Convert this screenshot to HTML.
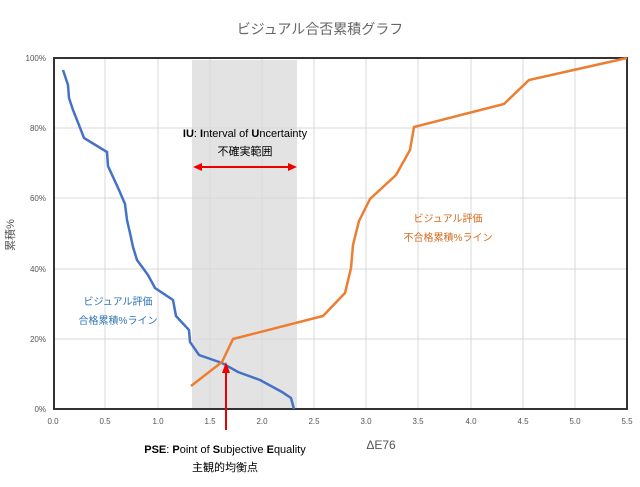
<!DOCTYPE html>
<html><head><meta charset="utf-8"><style>
body{margin:0;background:#fff;width:640px;height:482px;overflow:hidden}
svg text{font-family:"Liberation Sans","Noto Sans CJK JP",sans-serif}
</style></head><body>
<svg width="640" height="482" viewBox="0 0 640 482" xmlns="http://www.w3.org/2000/svg">
<rect width="640" height="482" fill="#fff"/>
<text x="320" y="34" font-size="14" fill="#666" text-anchor="middle">ビジュアル合否累積グラフ</text>
<rect x="192" y="60" width="105" height="349" fill="#e3e3e3"/>
<g stroke="#d9d9d9" stroke-width="1">
<line x1="105" y1="58" x2="105" y2="409"/><line x1="158" y1="58" x2="158" y2="409"/>
<line x1="210" y1="58" x2="210" y2="409"/><line x1="262" y1="58" x2="262" y2="409"/>
<line x1="314" y1="58" x2="314" y2="409"/><line x1="366" y1="58" x2="366" y2="409"/>
<line x1="418" y1="58" x2="418" y2="409"/><line x1="471" y1="58" x2="471" y2="409"/>
<line x1="523" y1="58" x2="523" y2="409"/><line x1="575" y1="58" x2="575" y2="409"/>
<line x1="53" y1="128" x2="627" y2="128"/><line x1="53" y1="198" x2="627" y2="198"/>
<line x1="53" y1="269" x2="627" y2="269"/><line x1="53" y1="339" x2="627" y2="339"/>
</g>
<rect x="54" y="58" width="573" height="351" fill="none" stroke="#333" stroke-width="2"/>
<g font-size="8" fill="#555" text-anchor="end">
<text x="46" y="61">100%</text><text x="46" y="131">80%</text><text x="46" y="201">60%</text>
<text x="46" y="272">40%</text><text x="46" y="342">20%</text><text x="46" y="412">0%</text>
</g>
<g font-size="8" fill="#555" text-anchor="middle">
<text x="53" y="424">0.0</text><text x="105" y="424">0.5</text><text x="158" y="424">1.0</text>
<text x="210" y="424">1.5</text><text x="262" y="424">2.0</text><text x="314" y="424">2.5</text>
<text x="366" y="424">3.0</text><text x="418" y="424">3.5</text><text x="471" y="424">4.0</text>
<text x="523" y="424">4.5</text><text x="575" y="424">5.0</text><text x="627" y="424">5.5</text>
</g>
<polyline fill="none" stroke="#4472c4" stroke-width="2.5" points="63,70 68,85 69,98 73,110 77,120 84,138 107,152 108,166 119,190 125,204 127,220 130,233 133,247 137,260 148,275 155,288 173,300 176,316 189,330 190,342 199,355 222,363 238,372 260,380 282,392 291,398 294,409"/>
<polyline fill="none" stroke="#ed7d31" stroke-width="2.5" points="191,386 222,362 233,339 323,316 345,293 351,268 353,245 359,221 370,199 396,175 410,150 414,127 504,104 529,80 627,58"/>
<line x1="200" y1="167" x2="290" y2="167" stroke="#e00" stroke-width="2"/>
<polygon points="193,167 202,163 202,171" fill="#e00"/><polygon points="297,167 288,163 288,171" fill="#e00"/>
<line x1="226" y1="430" x2="226" y2="372" stroke="#e00" stroke-width="2"/>
<polygon points="226,362 222,373 230,373" fill="#e00"/>
<text x="245" y="137" font-size="11" fill="#000" text-anchor="middle"><tspan font-weight="bold">IU</tspan>: <tspan font-weight="bold">I</tspan>nterval of <tspan font-weight="bold">U</tspan>ncertainty</text>
<text x="245" y="155" font-size="11" fill="#000" text-anchor="middle">不確実範囲</text>
<text x="225" y="453" font-size="11" fill="#000" text-anchor="middle"><tspan font-weight="bold">PSE</tspan>: <tspan font-weight="bold">P</tspan>oint of <tspan font-weight="bold">S</tspan>ubjective <tspan font-weight="bold">E</tspan>quality</text>
<text x="225" y="471" font-size="11" fill="#000" text-anchor="middle">主観的均衡点</text>
<text x="381" y="449" font-size="12" fill="#555" text-anchor="middle">ΔE76</text>
<text x="118" y="305" font-size="10" fill="#2e75b6" text-anchor="middle">ビジュアル評価</text>
<text x="118" y="324" font-size="10" fill="#2e75b6" text-anchor="middle">合格累積%ライン</text>
<text x="448" y="222" font-size="10" fill="#d46a1e" text-anchor="middle">ビジュアル評価</text>
<text x="448" y="241" font-size="10" fill="#d46a1e" text-anchor="middle">不合格累積%ライン</text>
<text transform="translate(14,235) rotate(-90)" font-size="11" fill="#555" text-anchor="middle">累積%</text>
</svg>
</body></html>
